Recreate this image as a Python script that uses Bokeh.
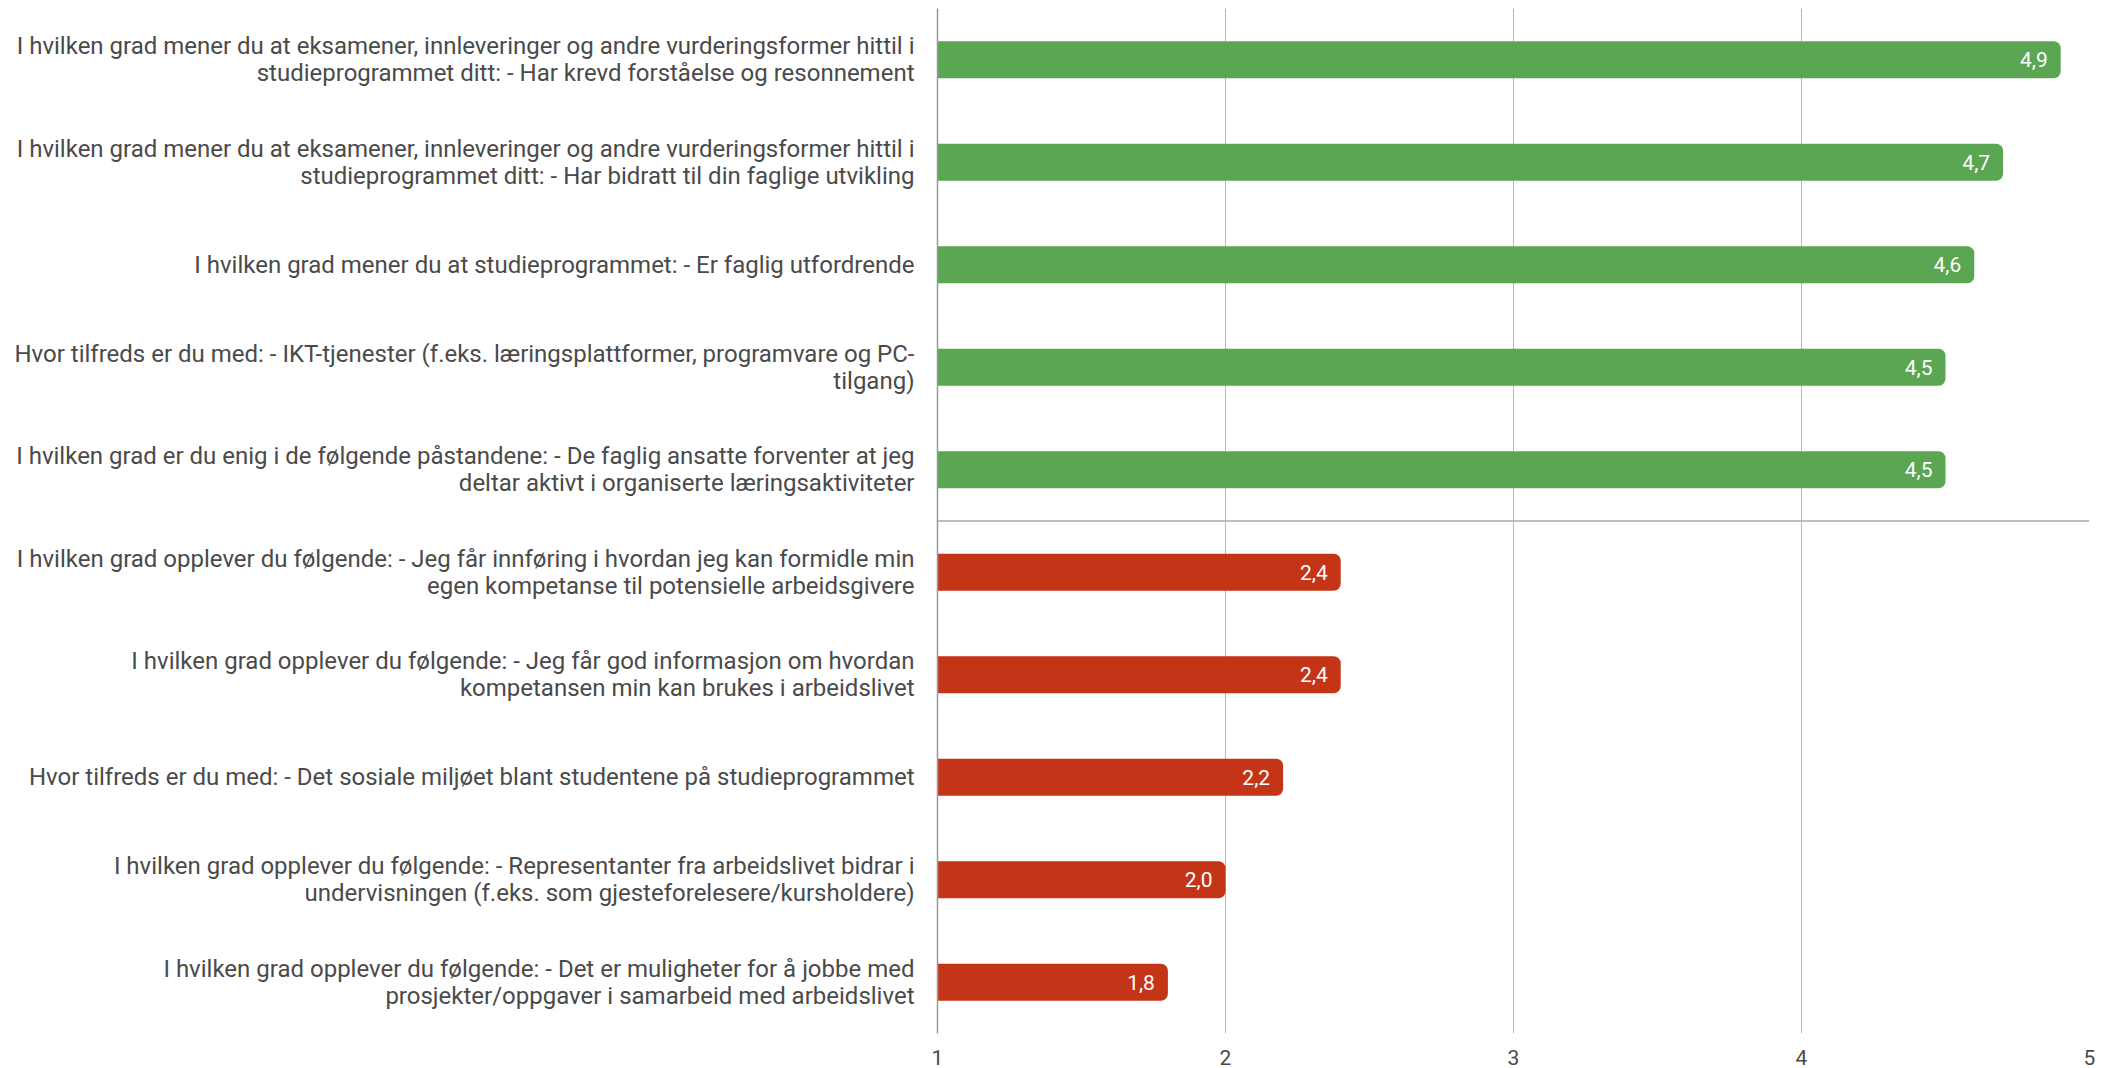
from bokeh.plotting import figure
from bokeh.models import ColumnDataSource, Range1d, FixedTicker, Span, LabelSet
from bokeh.core.properties import value
from bokeh.embed import file_html
from bokeh.resources import INLINE

categories = [
    "I hvilken grad mener du at eksamener, innleveringer og andre vurderingsformer hittil i\nstudieprogrammet ditt: - Har krevd forståelse og resonnement",
    "I hvilken grad mener du at eksamener, innleveringer og andre vurderingsformer hittil i\nstudieprogrammet ditt: - Har bidratt til din faglige utvikling",
    "I hvilken grad mener du at studieprogrammet: - Er faglig utfordrende",
    "Hvor tilfreds er du med: - IKT-tjenester (f.eks. læringsplattformer, programvare og PC-\ntilgang)",
    "I hvilken grad er du enig i de følgende påstandene: - De faglig ansatte forventer at jeg\ndeltar aktivt i organiserte læringsaktiviteter",
    "I hvilken grad opplever du følgende: - Jeg får innføring i hvordan jeg kan formidle min\negen kompetanse til potensielle arbeidsgivere",
    "I hvilken grad opplever du følgende: - Jeg får god informasjon om hvordan\nkompetansen min kan brukes i arbeidslivet",
    "Hvor tilfreds er du med: - Det sosiale miljøet blant studentene på studieprogrammet",
    "I hvilken grad opplever du følgende: - Representanter fra arbeidslivet bidrar i\nundervisningen (f.eks. som gjesteforelesere/kursholdere)",
    "I hvilken grad opplever du følgende: - Det er muligheter for å jobbe med\nprosjekter/oppgaver i samarbeid med arbeidslivet",
]
values = [4.9, 4.7, 4.6, 4.5, 4.5, 2.4, 2.4, 2.2, 2.0, 1.8]
groups = ["high", "high", "high", "high", "high", "low", "low", "low", "low", "low"]
x_ticks = [1, 2, 3, 4, 5]

GREEN = "#5ba652"
RED = "#c43518"
colors = [GREEN if g == "high" else RED for g in groups]
labels = [f"{v:.1f}".replace(".", ",") for v in values]
base = [x_ticks[0]] * len(values)

src = ColumnDataSource(dict(cat=categories, val=values, color=colors, label=labels, base=base))

p = figure(
    width=2098, height=1068,
    y_range=list(reversed(categories)),
    x_range=Range1d(x_ticks[0], x_ticks[-1]),
    output_backend="svg", toolbar_location=None,
    min_border_left=937, min_border_right=9, min_border_top=8, min_border_bottom=35,
)
p.outline_line_color = None
p.background_fill_color = "white"

p.hbar(y="cat", left="base", right="val", height=0.36, fill_color="color",
       line_color=None, border_radius=(0, 7, 7, 0), source=src)

p.add_layout(LabelSet(x="val", y="cat", text="label", source=src, x_offset=-13,
                      text_align="right", text_baseline="middle", text_color="white",
                      text_font=value("Roboto"), text_font_size="21px"))

n_low = sum(1 for g in groups if g == "low")
p.add_layout(Span(location=n_low, dimension="width", line_color="#aaaaaa", line_width=1.5))

p.xaxis.ticker = FixedTicker(ticks=x_ticks)
p.xaxis.axis_line_color = None
p.xaxis.major_tick_line_color = None
p.xaxis.minor_tick_line_color = None
p.xaxis.major_label_text_font = "Roboto"
p.xaxis.major_label_text_font_size = "21px"
p.xaxis.major_label_text_color = "#4a4a4a"
p.xaxis.major_label_standoff = 10

p.yaxis.axis_line_color = "#999999"
p.yaxis.axis_line_width = 1.5
p.yaxis.major_tick_line_color = None
p.yaxis.minor_tick_line_color = None
p.yaxis.major_label_text_font = "Roboto"
p.yaxis.major_label_text_font_size = "24px"
p.yaxis.major_label_text_color = "#4a4a4a"
p.yaxis.major_label_standoff = 17
p.yaxis.major_label_text_line_height = 0.96

p.xgrid.grid_line_color = "#b7b7b7"
p.xgrid.grid_line_width = 1
p.ygrid.grid_line_color = None

open("out.html", "w").write(file_html(p, INLINE))
